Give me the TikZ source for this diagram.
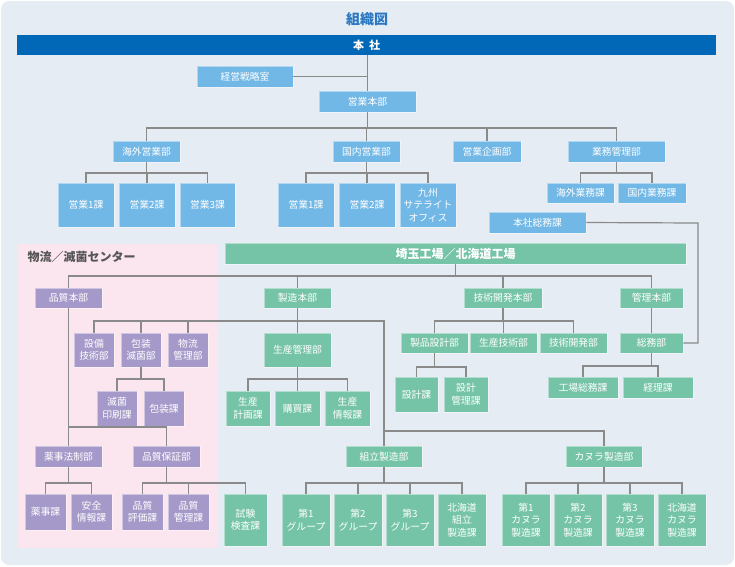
\documentclass[tikz,border=0pt]{standalone}
\usepackage{fontspec}
\setmainfont{Noto Sans CJK JP}
\usepackage{tikz}
\usetikzlibrary{calc,positioning}
\usepackage{xcolor}
\definecolor{bgcol}{HTML}{E5ECF3}
\definecolor{hqcol}{HTML}{0068B6}
\definecolor{titlecol}{HTML}{2A78C2}
\definecolor{blucol}{HTML}{72B8E6}
\definecolor{grncol}{HTML}{76C4A8}
\definecolor{purcol}{HTML}{A599C9}
\definecolor{pinkcol}{HTML}{FBE5EE}
\definecolor{lncol}{HTML}{8A8A8A}
\definecolor{labcol}{HTML}{555555}

\newcommand{\orgtree}[3]{%
    \draw[ln] (#1.south) -- (#1.south |- 0,#2);
    \foreach \ch in {#3} \draw[ln] (\ch.north) |- (#1.south |- 0,#2);
}

\begin{document}
\begin{tikzpicture}[x=1pt,y=-1pt,
    ln/.style={draw=lncol, line width=1.2pt},
    box/.style={inner sep=0pt, align=center, text=white, font=\fontsize{9.8}{12.5}\selectfont,
        draw=white, draw opacity=0.45, line width=0.8pt},
    blu/.style={box, fill=blucol},
    grn/.style={box, fill=grncol},
    pur/.style={box, fill=purcol},
    sz/.style 2 args={minimum width=#1pt, minimum height=#2pt}]

    \useasboundingbox (0,0) rectangle (735,566);
    \fill[bgcol, rounded corners=8pt] (1,1) rectangle (734,565);
    \fill[pinkcol] (18,244) rectangle (217,548);

    \node[text=titlecol, font=\bfseries\fontsize{14}{16}\selectfont] (title) at (367,19) {組織図};
    \node[fill=hqcol, text=white, inner sep=0pt, sz={699}{20}, font=\bfseries\fontsize{11}{13}\selectfont] (honsha) at (366.5,45) {本\hspace{5pt}社};

    % sales
    \node[blu, sz={96}{21}] (senryaku) at (245,76.5) {経営戦略室};
    \node[blu, sz={97}{21}] (eigyohq) at (367.5,101.5) {営業本部};
    \node[blu, sz={67}{21}] (kaigai) at (146.5,151.5) {海外営業部};
    \node[blu, sz={67}{21}] (kokunai) at (366.5,151.5) {国内営業部};
    \node[blu, sz={68}{21}] (kikaku) at (487,151.5) {営業企画部};
    \node[blu, sz={97}{21}] (gyomu) at (616.5,151.5) {業務管理部};
    \node[blu, sz={56}{44}] (ka1) at (86,205) {営業1課};
    \node[blu, sz={56}{44}] (ka2) at (147,205) {営業2課};
    \node[blu, sz={55}{44}] (ka3) at (207.5,205) {営業3課};
    \node[blu, sz={56}{44}] (ko1) at (306,205) {営業1課};
    \node[blu, sz={56}{44}] (ko2) at (367,205) {営業2課};
    \node[blu, sz={56}{44}] (kyushu) at (428,205) {九州\\サテライト\\オフィス};
    \node[blu, sz={67}{20}] (gk1) at (580.5,193) {海外業務課};
    \node[blu, sz={68}{20}] (gk2) at (652,193) {国内業務課};
    \node[blu, sz={97}{21}] (somuka) at (537.5,222.5) {本社総務課};

    % factory
    \node[anchor=west, text=labcol, font=\bfseries\fontsize{12}{14}\selectfont] (ctrlabel) at (24,257) {物流／滅菌センター};
    \node[grn, sz={461}{21}, font=\bfseries\fontsize{12}{14}\selectfont] (factory) at (455.5,253.5) {埼玉工場／北海道工場};

    \node[pur, sz={67}{20}] (hinshitsu) at (68.5,298) {品質本部};
    \node[grn, sz={67}{20}] (seizohq) at (297.5,298) {製造本部};
    \node[grn, sz={78}{20}] (gijutsu) at (503,298) {技術開発本部};
    \node[grn, sz={63}{20}] (kanrihq) at (651.5,298) {管理本部};

    \node[pur, sz={40}{34}] (setsubi) at (94,350) {設備\\技術部};
    \node[pur, sz={40}{34}] (hoso) at (141,350) {包装\\滅菌部};
    \node[pur, sz={40}{34}] (butsuryu) at (188,350) {物流\\管理部};
    \node[grn, sz={67}{34}] (seisan) at (297.5,350) {生産管理部};
    \node[grn, sz={67}{20}] (seihin) at (434.5,343) {製品設計部};
    \node[grn, sz={67}{20}] (seigi) at (503.5,343) {生産技術部};
    \node[grn, sz={67}{20}] (kaihatsu) at (573.5,343) {技術開発部};
    \node[grn, sz={63}{20}] (somubu) at (651.5,343) {総務部};

    \node[pur, sz={40}{35}] (mekkin) at (117,408.5) {滅菌\\印刷課};
    \node[pur, sz={40}{35}] (hosoka) at (164,408.5) {包装課};
    \node[grn, sz={44}{35}] (keikaku) at (248,408.5) {生産\\計画課};
    \node[grn, sz={45}{35}] (kobai) at (297.5,408.5) {購買課};
    \node[grn, sz={45}{35}] (joho) at (347.5,408.5) {生産\\情報課};
    \node[grn, sz={43}{35}] (sekkei) at (416.5,394.5) {設計課};
    \node[grn, sz={44}{35}] (skanri) at (466,394.5) {設計\\管理課};
    \node[grn, sz={70}{21}] (kojo) at (583,387.5) {工場総務課};
    \node[grn, sz={70}{21}] (keiri) at (658,387.5) {経理課};

    \node[pur, sz={67}{21}] (yakuji) at (68.5,456.5) {薬事法制部};
    \node[pur, sz={67}{21}] (hosho) at (166.5,456.5) {品質保証部};
    \node[grn, sz={76}{21}] (kumi) at (384,456.5) {組立製造部};
    \node[grn, sz={76}{21}] (kanura) at (604,456.5) {カヌラ製造部};

    \node[pur, sz={41}{36}] (yakujika) at (45.5,512) {薬事課};
    \node[pur, sz={41}{36}] (anzen) at (91.5,512) {安全\\情報課};
    \node[pur, sz={41}{36}] (hyoka) at (142.5,512) {品質\\評価課};
    \node[pur, sz={41}{36}] (hkanri) at (188.5,512) {品質\\管理課};
    \node[grn, sz={43}{52}] (shiken) at (245.5,520) {試験\\検査課};
    \node[grn, sz={48}{52}] (g1) at (306,520) {第1\\グループ};
    \node[grn, sz={48}{52}] (g2) at (358,520) {第2\\グループ};
    \node[grn, sz={48}{52}] (g3) at (410,520) {第3\\グループ};
    \node[grn, sz={48}{52}] (ghk) at (462,520) {北海道\\組立\\製造課};
    \node[grn, sz={48}{52}] (k1) at (526,520) {第1\\カヌラ\\製造課};
    \node[grn, sz={48}{52}] (k2) at (578,520) {第2\\カヌラ\\製造課};
    \node[grn, sz={48}{52}] (k3) at (630,520) {第3\\カヌラ\\製造課};
    \node[grn, sz={48}{52}] (khk) at (682,520) {北海道\\カヌラ\\製造課};

    \coordinate (turn) at (698,223);

    \draw[ln] (honsha.south -| eigyohq.north) -- (eigyohq.north);
    \draw[ln] (senryaku.east) -- (senryaku.east -| eigyohq.north);
    \orgtree{eigyohq}{128}{kaigai,kokunai,kikaku,gyomu}
    \orgtree{kaigai}{173}{ka1,ka2,ka3}
    \orgtree{kokunai}{173}{ko1,ko2,kyushu}
    \orgtree{gyomu}{173}{gk1,gk2}
    \draw[ln] (somuka.east) -- (turn) |- (somubu.east);

    \orgtree{factory}{276}{hinshitsu,seizohq,gijutsu,kanrihq}
    \orgtree{hinshitsu}{427}{yakuji,hosho}
    \orgtree{seizohq}{321}{setsubi,hoso,butsuryu,seisan}
    \draw[ln] (seizohq.south |- 0,321) -| (kumi.north);
    \draw[ln] (kumi.north |- 0,431) -| (kanura.north);
    \orgtree{hoso}{379}{mekkin,hosoka}
    \orgtree{seisan}{379}{keikaku,kobai,joho}
    \orgtree{gijutsu}{321}{seihin,seigi,kaihatsu}
    \orgtree{seihin}{367}{sekkei,skanri}
    \draw[ln] (kanrihq.south) -- (somubu.north);
    \orgtree{somubu}{366}{kojo,keiri}
    \orgtree{yakuji}{483}{yakujika,anzen}
    \orgtree{hosho}{483}{hyoka,hkanri,shiken}
    \orgtree{kumi}{483}{g1,g2,g3,ghk}
    \orgtree{kanura}{483}{k1,k2,k3,khk}
\end{tikzpicture}
\end{document}
